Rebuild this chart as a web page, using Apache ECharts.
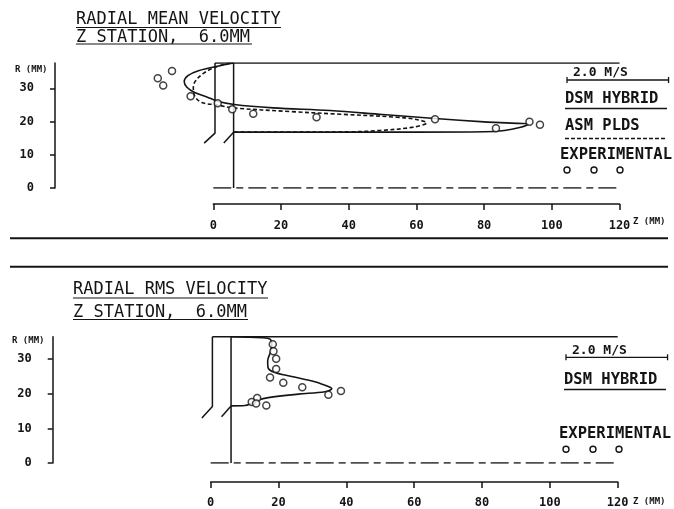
<!DOCTYPE html>
<html>
<head>
<meta charset="utf-8">
<script src="https://cdn.jsdelivr.net/npm/echarts@6/dist/echarts.min.js"></script>
<style>
  html, body { margin: 0; padding: 0; background: #fff; }
  #chart { width: 674px; height: 509px; }
</style>
</head>
<body>
<div id="chart"></div>
<script>
// ---- axis ticks ----
const zTicks = [0, 20, 40, 60, 80, 100, 120];
const rTicks = [0, 10, 20, 30];

// ---- radial mean velocity, profiles drawn as offsets from the station (2.0 m/s = 30 mm) ----
const meanDsmHybrid = [
  [6.0, 37.6], [2.0, 36.8], [-4.4, 35.3], [-7.5, 33.8], [-8.6, 32.0], [-7.8, 30.3],
  [-5.5, 28.7], [-1.9, 27.4], [1.0, 26.2], [6.2, 25.1], [17.7, 24.1], [34.5, 23.3],
  [50.0, 22.1], [65.5, 20.9], [80.0, 19.9], [88.0, 19.5], [93.1, 19.2], [90.5, 18.2],
  [86.0, 17.3], [80.0, 16.9], [60.0, 16.8], [30.0, 16.8], [6.0, 16.8]
];
const meanAsmPlds = [
  [5.0, 37.6], [1.0, 36.5], [-2.9, 34.5], [-5.4, 32.0], [-5.9, 30.0], [-5.4, 27.5],
  [-3.4, 25.7], [1.0, 25.0], [5.9, 24.1], [22.7, 23.0], [37.4, 22.2], [54.2, 21.3],
  [60.0, 20.6], [63.0, 19.6], [59.1, 18.3], [49.2, 17.3], [40.0, 16.9], [20.0, 16.8], [6.0, 16.8]
];
const meanExperimental = [
  [-16.4, 33.0], [-14.8, 30.8], [-12.2, 35.2], [-6.7, 27.6], [1.3, 25.5], [5.6, 23.7],
  [11.8, 22.3], [30.5, 21.3], [65.5, 20.7], [83.5, 18.0], [93.4, 19.9], [96.5, 19.0]
];

// ---- radial rms velocity ----
const rmsDsmHybrid = [
  [6.0, 36.5], [15.1, 36.2], [17.5, 35.8], [18.0, 34.1], [17.6, 32.0], [16.8, 29.5],
  [16.9, 27.6], [18.5, 26.3], [23.9, 25.0], [30.7, 23.5], [34.7, 22.1], [35.7, 21.5],
  [33.7, 20.6], [25.8, 19.9], [17.0, 18.9], [14.0, 18.2], [12.1, 17.3], [10.1, 16.6], [6.0, 16.5]
];
const rmsExperimental = [
  [18.3, 34.3], [18.5, 32.3], [19.3, 30.1], [19.3, 27.2], [17.5, 24.7], [21.4, 23.2],
  [27.0, 21.9], [34.7, 19.7], [38.4, 20.8], [13.7, 18.8], [12.1, 17.6], [13.4, 17.2], [16.4, 16.6]
];

// ---- flow passage outline (z, R in mm) ----
const stationZ = 6.0;
const meanOuterWall = [[0.5, 37.6], [120, 37.6]];
const meanStepWall = [[0.5, 37.6], [0.5, 16.5], [-2.7, 13.5]];
const meanStation = [[stationZ, 37.6], [stationZ, 0]];
const meanBreak = [[stationZ, 16.8], [3.1, 13.5]];
const meanAxis = [[0, 0], [120, 0]];

const rmsOuterWall = [[0.5, 36.5], [120, 36.5]];
const rmsStepWall = [[0.5, 36.5], [0.5, 16.3], [-2.6, 13.0]];
const rmsStation = [[stationZ, 36.5], [stationZ, 0]];
const rmsBreak = [[stationZ, 16.5], [3.2, 13.4]];
const rmsAxis = [[0, 0], [120, 0]];

// ---- styling ----
const INK = '#141414';
const MONO = '"DejaVu Sans Mono", "Liberation Mono", monospace';
const SCALE_MM_PER_MS = 15;   // 1 m/s drawn as 15 mm of z

const chart = echarts.init(document.getElementById('chart'), null, { renderer: 'canvas' });

// panel layout: plot grid and a separate grid carrying the visible z axis
const panels = [
  { top: 63,    bottom: 188,   rMax: 37.6, left: 55,   zLeft: 213.3, zRight: 619.5, zAxisY: 204,   zLabelMargin: 16 },
  { top: 336.7, bottom: 463,   rMax: 36.5, left: 52.7, zLeft: 210.7, zRight: 617.7, zAxisY: 483.3, zLabelMargin: 15 }
];

const grids = [], xAxes = [], yAxes = [];
panels.forEach((p, i) => {
  const pxPerMm = (p.zRight - p.zLeft) / 120;
  const zMin = -(p.zLeft - p.left) / pxPerMm;
  // plot grid
  grids.push({ left: p.left, top: p.top, width: p.zRight - p.left, height: p.bottom - p.top, containLabel: false });
  xAxes.push({ gridIndex: 2 * i, type: 'value', min: zMin, max: 120, show: false });
  yAxes.push({
    gridIndex: 2 * i, type: 'value', min: 0, max: p.rMax, position: 'left',
    axisLine: { show: true, onZero: false, lineStyle: { color: INK, width: 1.5 } },
    axisTick: { show: true, length: 5, customValues: rTicks, lineStyle: { color: INK, width: 1.5 } },
    axisLabel: { customValues: rTicks, margin: 21, color: INK, fontSize: 12, fontWeight: 'bold', fontFamily: MONO },
    splitLine: { show: false }
  });
  // z axis grid
  grids.push({ left: p.zLeft, top: p.zAxisY - 10, width: p.zRight - p.zLeft, height: 10, containLabel: false });
  xAxes.push({
    gridIndex: 2 * i + 1, type: 'value', min: 0, max: 120, interval: 20, position: 'bottom',
    axisLine: { show: true, onZero: false, lineStyle: { color: INK, width: 1.5 } },
    axisTick: { show: true, length: 6, lineStyle: { color: INK, width: 1.5 } },
    axisLabel: { margin: p.zLabelMargin, color: INK, fontSize: 12, fontWeight: 'bold', fontFamily: MONO,
                 formatter: v => zTicks.includes(v) ? String(v) : '' },
    splitLine: { show: false }
  });
  yAxes.push({ gridIndex: 2 * i + 1, type: 'value', min: 0, max: 1, show: false });
});

function outline(data, panel, dash, width) {
  return {
    type: 'line', xAxisIndex: 2 * panel, yAxisIndex: 2 * panel, data: data,
    showSymbol: false, symbol: 'none', silent: true, z: 2,
    lineStyle: { color: INK, width: width || 1.5, type: dash || 'solid' }
  };
}
function profile(data, panel, dash) {
  return {
    type: 'line', xAxisIndex: 2 * panel, yAxisIndex: 2 * panel, data: data,
    showSymbol: false, symbol: 'none', smooth: 0.35, silent: true, z: 3,
    lineStyle: { color: INK, width: 1.6, type: dash || 'solid' }
  };
}
function points(data, panel) {
  return {
    type: 'scatter', xAxisIndex: 2 * panel, yAxisIndex: 2 * panel, data: data,
    symbol: 'circle', symbolSize: 7, z: 5,
    itemStyle: { color: '#fff', borderColor: INK, borderWidth: 1.5 }
  };
}

const centreDash = [18, 5, 7, 5];
const series = [
  outline(meanOuterWall, 0), outline(meanStepWall, 0), outline(meanStation, 0),
  outline(meanBreak, 0), outline(meanAxis, 0, centreDash),
  profile(meanDsmHybrid, 0), profile(meanAsmPlds, 0, [4, 2.5]),
  points(meanExperimental, 0),
  outline(rmsOuterWall, 1), outline(rmsStepWall, 1), outline(rmsStation, 1),
  outline(rmsBreak, 1), outline(rmsAxis, 1, centreDash),
  profile(rmsDsmHybrid, 1),
  points(rmsExperimental, 1)
];

// ---- text and legend graphics ----
function txt(x, y, s, size, weight) {
  return {
    type: 'text', x: x, y: y, silent: true,
    style: { text: s, font: (weight || 'normal') + ' ' + size + 'px ' + MONO, fill: INK,
             align: 'left', verticalAlign: 'middle', textAlign: 'left', textVerticalAlign: 'middle' }
  };
}
function seg(x1, y1, x2, y2, w, dash) {
  return { type: 'line', silent: true, shape: { x1: x1, y1: y1, x2: x2, y2: y2 },
           style: { stroke: INK, lineWidth: w || 1.5, lineDash: dash || null } };
}
function ring(cx, cy) {
  return { type: 'circle', silent: true, shape: { cx: cx, cy: cy, r: 3 },
           style: { fill: '#fff', stroke: INK, lineWidth: 1.4 } };
}

const graphics = [];
// titles
graphics.push(txt(76, 20, 'RADIAL MEAN VELOCITY', 17), seg(76, 27.5, 281, 27.5, 1.2));
graphics.push(txt(76, 37.5, 'Z STATION,  6.0MM', 17), seg(76, 44, 252, 44, 1.2));
graphics.push(txt(73, 290, 'RADIAL RMS VELOCITY', 17), seg(73, 298, 268, 298, 1.2));
graphics.push(txt(73, 312.5, 'Z STATION,  6.0MM', 17), seg(73, 319.5, 248, 319.5, 1.2));
// axis names
graphics.push(txt(15, 70, 'R (MM)', 9, 'bold'), txt(633, 222, 'Z (MM)', 9, 'bold'));
graphics.push(txt(12, 341, 'R (MM)', 9, 'bold'), txt(633, 502, 'Z (MM)', 9, 'bold'));
// panel separators
graphics.push(seg(10, 238.3, 668, 238.3, 2), seg(10, 266.7, 668, 266.7, 2));

// legends with velocity scale bar
const barPx = 2.0 * SCALE_MM_PER_MS * (panels[0].zRight - panels[0].zLeft) / 120;
function legend(x0, yScale, yDsm, yAsm, yExp, yDots) {
  graphics.push(txt(x0 + 6, yScale - 7, '2.0 M/S', 13, 'bold'));
  graphics.push(seg(x0, yScale, x0 + barPx, yScale, 1.3),
                seg(x0, yScale - 3, x0, yScale + 3, 1.3),
                seg(x0 + barPx, yScale - 3, x0 + barPx, yScale + 3, 1.3));
  graphics.push(txt(x0 - 2, yDsm, 'DSM HYBRID', 15.5, 'bold'), seg(x0 - 2, yDsm + 9.5, x0 + 100, yDsm + 9.5, 1.6));
  if (yAsm !== null) {
    graphics.push(txt(x0 - 2, yAsm, 'ASM PLDS', 15.5, 'bold'),
                  seg(x0 - 2, yAsm + 12.5, x0 + 100, yAsm + 12.5, 1.6, [4, 2]));
  }
  graphics.push(txt(x0 - 7, yExp, 'EXPERIMENTAL', 15.5, 'bold'));
  graphics.push(ring(x0, yDots), ring(x0 + 27, yDots), ring(x0 + 53, yDots));
}
legend(567, 80, 99, 126, 155, 170);
legend(566, 357.3, 380, null, 433.5, 449.3);

chart.setOption({
  backgroundColor: '#fff',
  animation: false,
  grid: grids,
  xAxis: xAxes,
  yAxis: yAxes,
  series: series,
  graphic: { elements: graphics }
});
</script>
</body>
</html>
